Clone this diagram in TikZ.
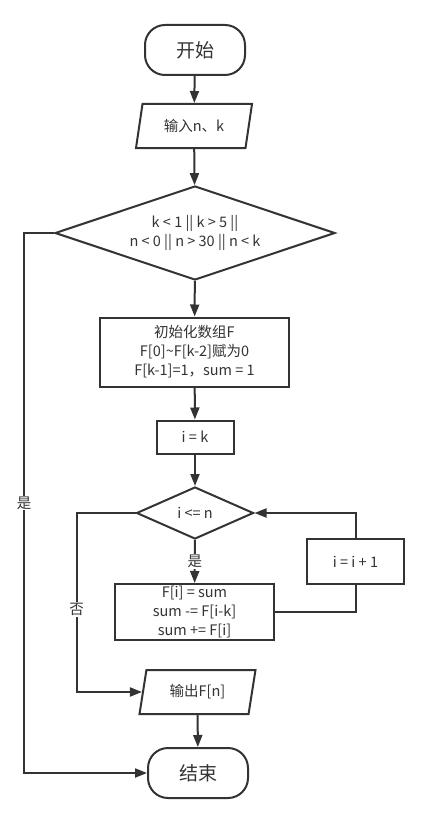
\documentclass[tikz,border=0pt]{standalone}
\usepackage{fontspec}
\setmainfont{Noto Sans CJK SC}
\usepackage{xcolor}
\usepackage{tikz}
\usetikzlibrary{shapes.geometric, arrows.meta}

\definecolor{ink}{HTML}{333333}

\begin{document}
\begin{tikzpicture}[
    x=1pt, y=-1pt,
    every node/.style={text=ink, font=\fontsize{14.5}{19}\selectfont},
    terminal/.style={draw=ink, line width=2pt, rounded corners=20pt, minimum width=100pt, minimum height=50pt, font=\fontsize{19}{22}\selectfont},
    io/.style={draw=ink, line width=2pt, trapezium, trapezium left angle=72, trapezium right angle=108, trapezium stretches body, minimum width=116pt, minimum height=44pt, inner xsep=0pt},
    decision/.style={draw=ink, line width=2pt, diamond, inner sep=0pt, align=center},
    process/.style={draw=ink, line width=2pt, align=center},
    label/.style={fill=white, inner sep=1pt},
    line/.style={-{Triangle[length=12pt, width=9pt]}, draw=ink, line width=2pt}
]
\useasboundingbox (0,0) rectangle (430,824);

\node[terminal] (start) at (195,50) {开始};

\node[io] (input) at (194,126) {输入n、k};

\node[decision, shape aspect=3, minimum width=280pt, minimum height=94pt] (check) at (195,233) {
k < 1 || k > 5 ||\\
n < 0 || n > 30 || n < k
};

\node[process, minimum width=189pt, minimum height=69pt] (init) at (194.5,352) {
初始化数组F\\
F[0]\textasciitilde F[k-2]赋为0\\
F[k-1]=1，sum = 1
};

\node[process, minimum width=77pt, minimum height=33pt] (setk) at (195,437) {i = k};

\node[decision, shape aspect=2.25, minimum width=117pt, minimum height=52pt] (loop) at (195,513) {i <= n};

\node[process, minimum width=159pt, minimum height=56pt, inner sep=2pt] (body) at (194.5,612) {
F[i] = sum\\
sum -= F[i-k]\\
sum += F[i]
};

\node[process, minimum width=97pt, minimum height=45pt] (incr) at (355.5,561.5) {i = i + 1};

\node[io] (output) at (197.5,692) {输出F[n]};

\node[terminal] (stop) at (198,773) {结束};

\draw[line] (start) -- (input);
\draw[line] (input) -- (check);
\draw[line] (check) -- (init);
\draw[line] (init) -- (setk);
\draw[line] (setk) -- (loop);
\draw[line] (loop) -- node[label]{是} (body);
\draw[line] (output) -- (stop);

\draw[line] (check.west) -- ++(-30,0) |- node[label, pos=0.25]{是} (stop.west);
\draw[line] (loop.west) -- ++(-59,0) |- node[label, pos=0.27]{否} (output.west);
\draw[draw=ink, line width=2pt] (body.east) -| (incr.south);
\draw[line] (incr.north) |- (loop.east);

\end{tikzpicture}
\end{document}
